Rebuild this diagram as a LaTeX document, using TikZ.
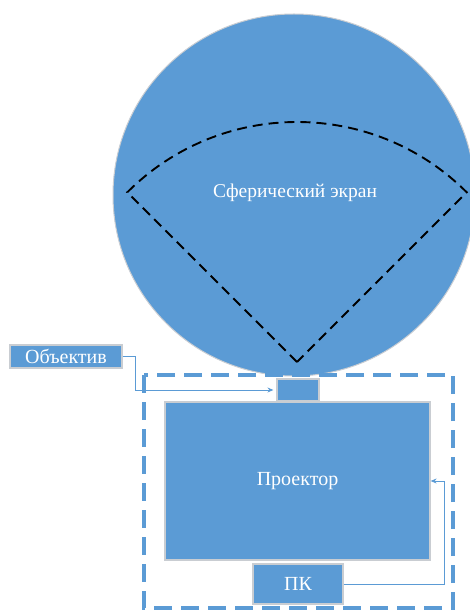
\documentclass[tikz,border=0pt]{standalone}
\usepackage{fontspec}
\setmainfont{Liberation Serif}
\usepackage{tikz}
\usetikzlibrary{calc}
\usetikzlibrary{arrows.meta}
\definecolor{boxblue}{HTML}{5B9BD5}
\definecolor{boxrim}{HTML}{C9CDD2}
\tikzset{
  blockbox/.style={draw=boxrim, line width=1.2pt, fill=boxblue, text=white, inner sep=0pt,
    font=\fontsize{20}{22}\selectfont},
  linkline/.style={draw=boxblue, line width=0.9pt, -{Stealth[length=6pt,width=5pt]}}
}
\newcommand{\block}[5]{\node[blockbox, minimum width=#3, minimum height=#4] (#1) at ( #2 ) {#5};}

\begin{document}
\begin{tikzpicture}[x=1pt,y=-1pt]
        \useasboundingbox (0,0) rectangle (470,612);

        % screen
        \fill[boxblue, draw=boxrim, line width=1pt] (294,195) circle (181);
        \coordinate (apex) at (297,362);
        \draw[black, line width=1.9pt, dash pattern=on 10pt off 6pt]
            (apex) -- ++(225:240) arc[start angle=225, end angle=315, radius=240] -- cycle;
        \node[text=white, font=\fontsize{19.5}{22}\selectfont] (screen) at (295,193) {Сферический экран};

        % projector unit
        \draw[boxblue, line width=3.5pt, dash pattern=on 18pt off 9pt] (144,375) rectangle (453,608);
        \block{lens}{298,390}{42pt}{22pt}{}
        \block{projector}{297.5,481}{265pt}{158pt}{Проектор}
        \block{pc}{298,584}{90pt}{40pt}{ПК}
        \block{objective}{66,356.5}{112pt}{23pt}{Объектив}

        % links
        \draw[linkline, shorten >=3pt] (objective.east) -- ++(13,0) |- (lens.west);
        \draw[linkline] (pc.east) -- ++(101,0) |- (projector.east);

    \end{tikzpicture}
\end{document}
